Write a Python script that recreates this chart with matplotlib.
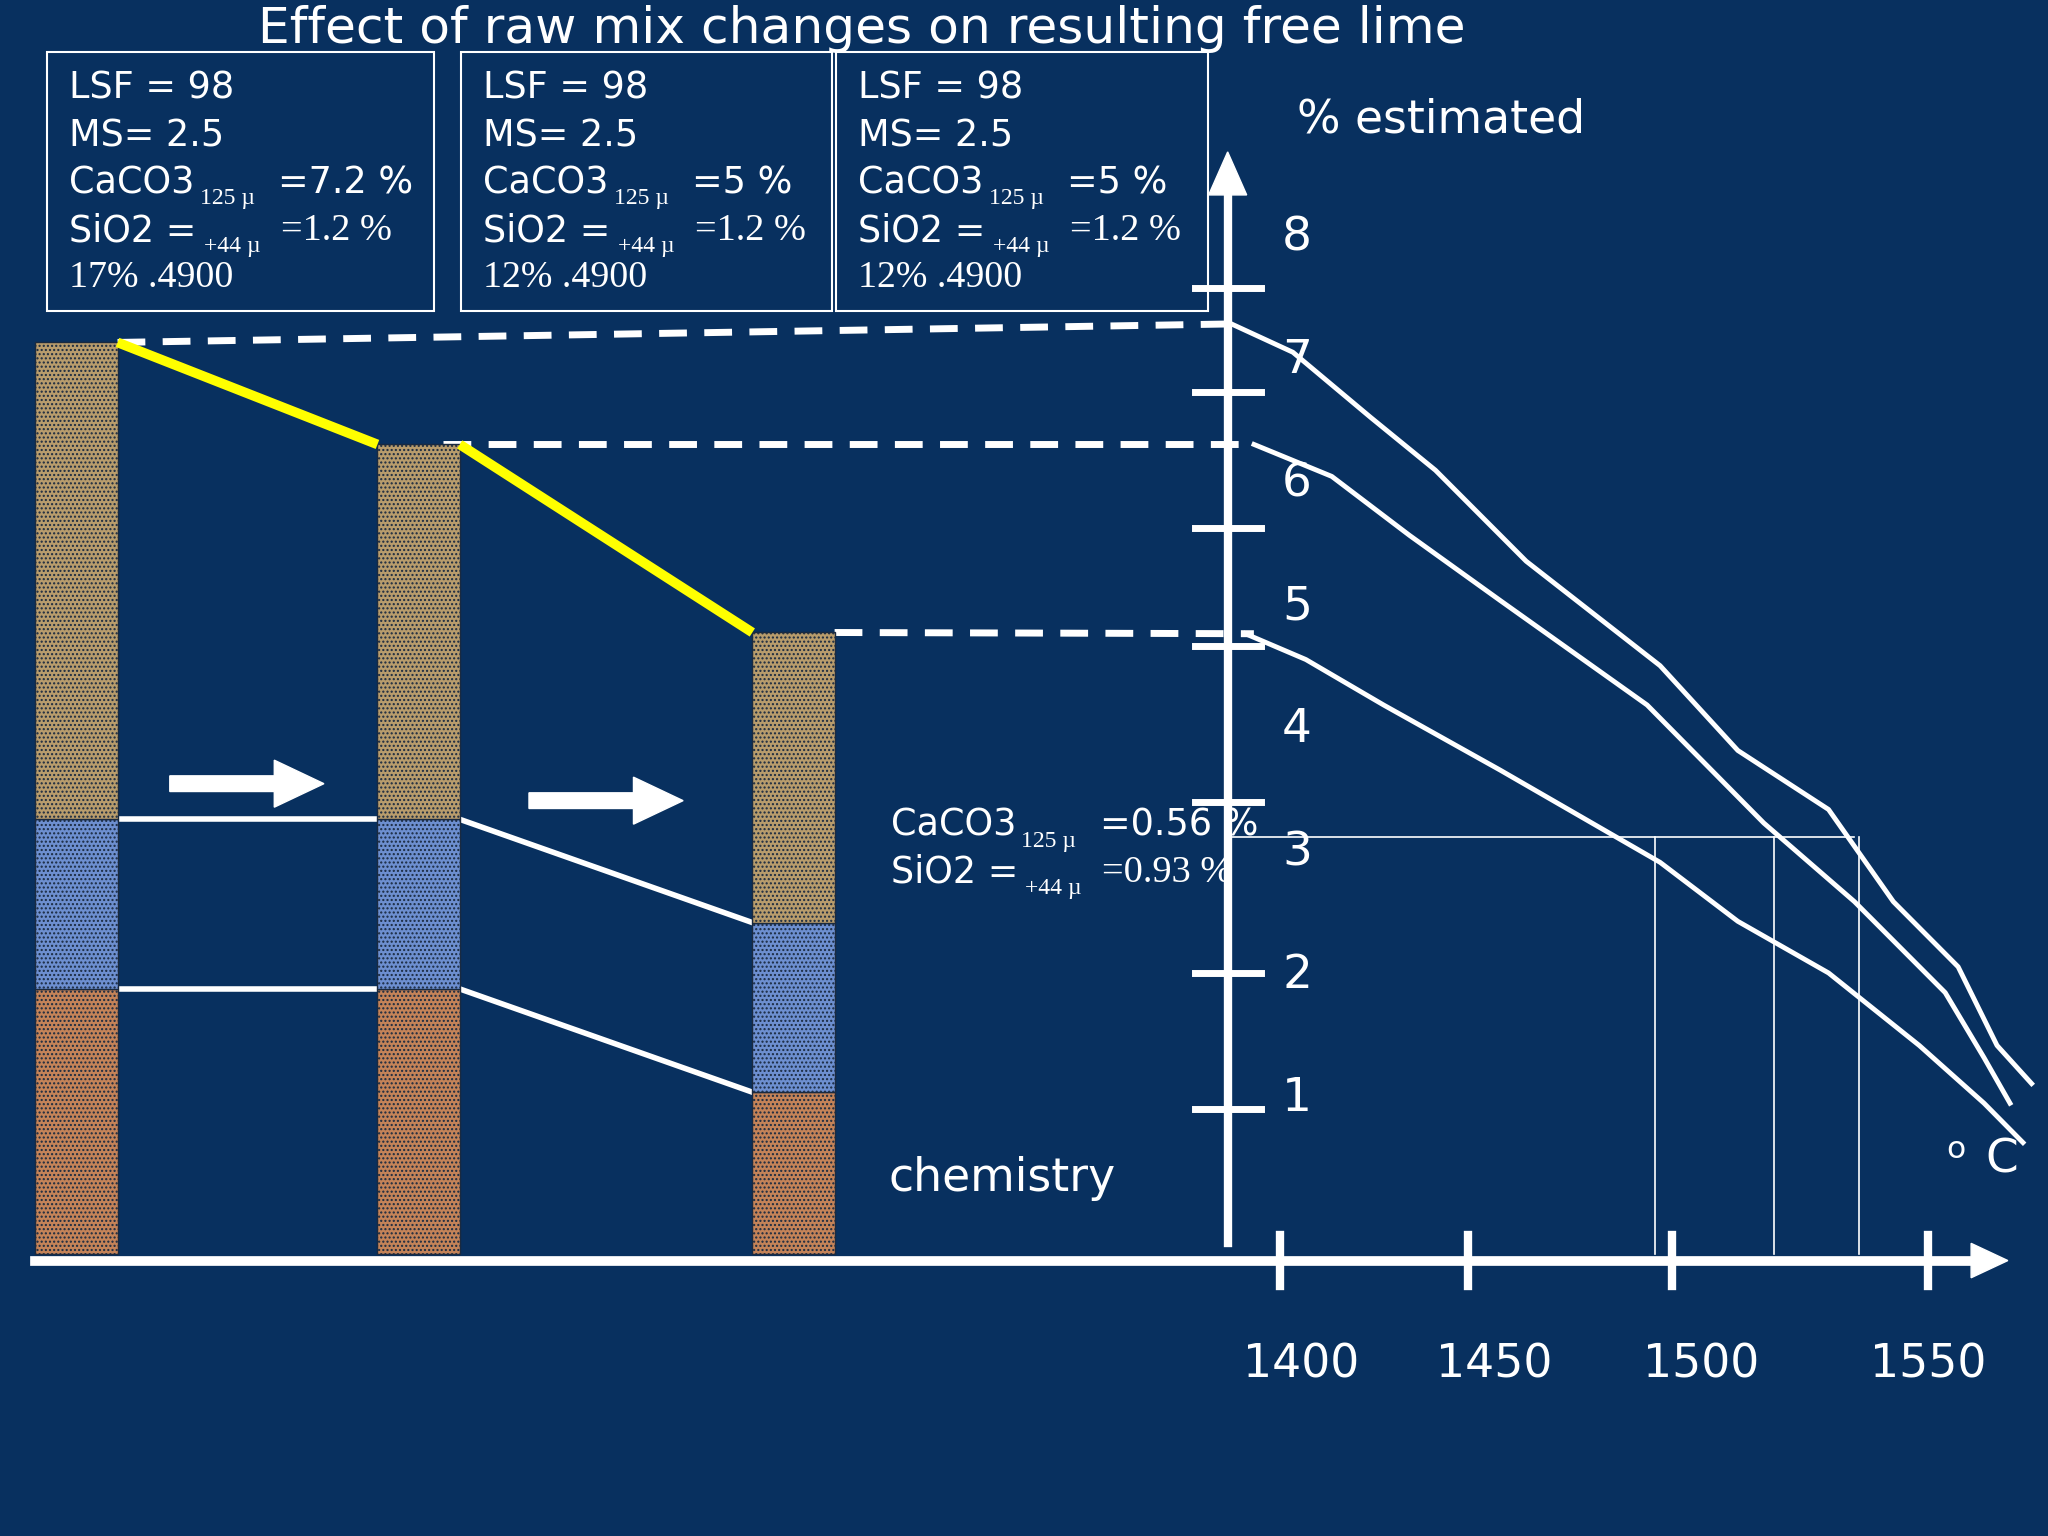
import matplotlib
matplotlib.use("Agg")
import matplotlib.pyplot as plt
import matplotlib.transforms as mtransforms
from matplotlib.patches import Rectangle, FancyArrow, Polygon

BG = "#08305f"
# ---- data ----
temps_c1 = [1388.8, 1403, 1421, 1436, 1457, 1488, 1506, 1527, 1542, 1557, 1566, 1574]
lime_c1 = [7.30, 7.07, 6.54, 6.11, 5.37, 4.52, 3.83, 3.35, 2.60, 2.07, 1.43, 1.12]
temps_c2 = [1394, 1412, 1430, 1451, 1485, 1512, 1533, 1554, 1563, 1569]
lime_c2 = [6.32, 6.06, 5.58, 5.05, 4.20, 3.24, 2.60, 1.86, 1.33, 0.96]
temps_c3 = [1392, 1406, 1424, 1451, 1488, 1506, 1527, 1548, 1563, 1572]
lime_c3 = [4.78, 4.57, 4.20, 3.67, 2.92, 2.44, 2.02, 1.43, 0.96, 0.64]
ytick_vals = [0.91, 2.02, 3.41, 4.68, 5.64, 6.75, 7.59]
ylabel_vals = [1, 2, 3, 4, 5, 6, 7, 8]
xtick_temps = [1400, 1443.5, 1490.7, 1550]
xlabel_temps = [1405, 1449.5, 1497.6, 1550]
xtick_labels = ["1400", "1450", "1500", "1550"]
ref_temps = [1486.8, 1514.3, 1534.0]
ref_level = 3.13
# bars: bottom, segment tops (orange, blue, tan)
bar_bottom = -0.27
bar_orange_top = [1.89, 1.89, 1.05]
bar_blue_top = [3.27, 3.27, 2.43]
bar_tan_top = [7.15, 6.32, 4.79]
bar_left = [27, 289, 576]
bar_width = 63
boxes = [("7.2 %", "17% .4900"), ("5 %", "12% .4900"), ("5 %", "12% .4900")]

fig = plt.figure(figsize=(20.48, 15.36), dpi=100)
fig.patch.set_facecolor(BG)
ax = fig.add_axes([0, 0, 1, 1]); ax.set_xlim(0, 1568); ax.set_ylim(1176, 0); ax.axis("off")
axv = fig.add_axes([0, 0, 1, 1]); axv.set_xlim(1103.7, 1577.8); axv.set_ylim(-2.561, 9.936); axv.axis("off")
axv.patch.set_alpha(0)
bt = mtransforms.blended_transform_factory(ax.transData, axv.transData)
S = 1.306
def fs(px): return px * S * 0.72

cols = ["#c48358", "#6d8fd0", "#b89c6c"]
for i in range(3):
    segs = [(bar_bottom, bar_orange_top[i]), (bar_orange_top[i], bar_blue_top[i]), (bar_blue_top[i], bar_tan_top[i])]
    for (b, t), c in zip(segs, cols):
        ax.add_patch(Rectangle((bar_left[i], b), bar_width, t - b, transform=bt, facecolor=c,
                               edgecolor="#1a2a40", hatch="....", lw=1, zorder=3))
W = "white"
for i in range(2):
    ax.plot([bar_left[i] + bar_width, bar_left[i + 1]],
            [bar_tan_top[i], bar_tan_top[i + 1]], transform=bt, color="#ffff00", lw=7, zorder=4, solid_capstyle="butt")
for i in range(2):
    for arr in (bar_blue_top, bar_orange_top):
        ax.plot([bar_left[i] + bar_width, bar_left[i + 1]], [arr[i], arr[i + 1]], transform=bt, color=W, lw=4, zorder=2)
starts = [bar_left[0] + bar_width, bar_left[1] + 50, bar_left[2] + bar_width]
ends = [lime_c1[0], lime_c2[0], lime_c3[0]]
endx = [940, 960, 960]
for s, e, t, x2 in zip(starts, ends, bar_tan_top, endx):
    ax.plot([s, x2], [t, e], transform=bt, color=W, lw=5, ls=(0, (4, 2.5)), zorder=2)

for tx, ly in ((temps_c1, lime_c1), (temps_c2, lime_c2), (temps_c3, lime_c3)):
    axv.plot(tx, ly, color=W, lw=3.5)
axv.plot([1387.9, 1533.0], [ref_level, ref_level], color=W, lw=1.2)
for t in ref_temps:
    axv.plot([t, t], [ref_level, -0.27], color=W, lw=1.2)
axv.plot([1387.9, 1387.9], [-0.18, 8.4], color=W, lw=6)
axv.add_patch(Polygon([[1383.5, 8.35], [1392.3, 8.35], [1387.9, 8.70]], closed=True, color=W))
for v in ytick_vals:
    axv.plot([1380.4, 1395.5], [v, v], color=W, lw=5)
for v in ylabel_vals:
    axv.text(1400.5, v, str(v), color=W, fontsize=fs(36), va="center", ha="left")
axv.plot([1111.8, 1562], [-0.32, -0.32], color=W, lw=7)
axv.add_patch(Polygon([[1560, -0.18], [1560, -0.46], [1568.5, -0.32]], closed=True, color=W))
for t in xtick_temps:
    axv.plot([t, t], [-0.11, -0.53], color=W, lw=6)
for t, l in zip(xlabel_temps, xtick_labels):
    axv.text(t, -1.17, l, color=W, fontsize=fs(35), ha="center", va="center")

for x0, y0 in ((130, 600), (405, 613)):
    ax.add_patch(FancyArrow(x0, y0, 118, 0, width=12, head_width=36, head_length=38,
                            length_includes_head=True, color=W, zorder=5))

ax.text(660, 22, "Effect of raw mix changes on resulting free lime", color=W, fontsize=fs(38.5), ha="center", va="center")
ax.text(993, 92, "% estimated", color=W, fontsize=fs(35), ha="left", va="center")
ax.text(680, 902, "chemistry", color=W, fontsize=fs(35), ha="left", va="center")
ax.text(1490, 880, "o", color=W, fontsize=fs(24), ha="left", va="center")
ax.text(1520, 888, "C", color=W, fontsize=fs(36), ha="left", va="center")

SERIF = "Liberation Serif"
def chem_lines(x, y1, y2, cval, sval, big=28):
    ax.text(x, y1, "CaCO3", color=W, fontsize=fs(big), va="center")
    ax.text(x + 100, y1 + 12, "125 µ", color=W, fontsize=fs(big * 0.65), va="center", family=SERIF)
    ax.text(x + 160, y1, "=" + cval, color=W, fontsize=fs(big), va="center")
    ax.text(x, y2, "SiO2 =", color=W, fontsize=fs(big), va="center")
    ax.text(x + 103, y2 + 12, "+44 µ", color=W, fontsize=fs(big * 0.65), va="center", family=SERIF)
    ax.text(x + 162, y2, "=" + sval, color=W, fontsize=fs(big * 1.05), va="center", family=SERIF)

box_x = [(36, 332), (353, 637), (640, 925)]
for (x0, x1), (cv, last) in zip(box_x, boxes):
    ax.add_patch(Rectangle((x0, 40), x1 - x0, 198, fill=False, edgecolor=W, lw=1.5))
    tx = x0 + 17
    ax.text(tx, 67, "LSF = 98", color=W, fontsize=fs(28), va="center")
    ax.text(tx, 104, "MS= 2.5", color=W, fontsize=fs(28), va="center")
    chem_lines(tx, 140, 177, cv, "1.2 %")
    ax.text(tx, 213, last, color=W, fontsize=fs(29), va="center", family=SERIF)

chem_lines(682, 632, 668, "0.56 %", "0.93 %")

fig.savefig("out.png", dpi=100, facecolor=BG)
